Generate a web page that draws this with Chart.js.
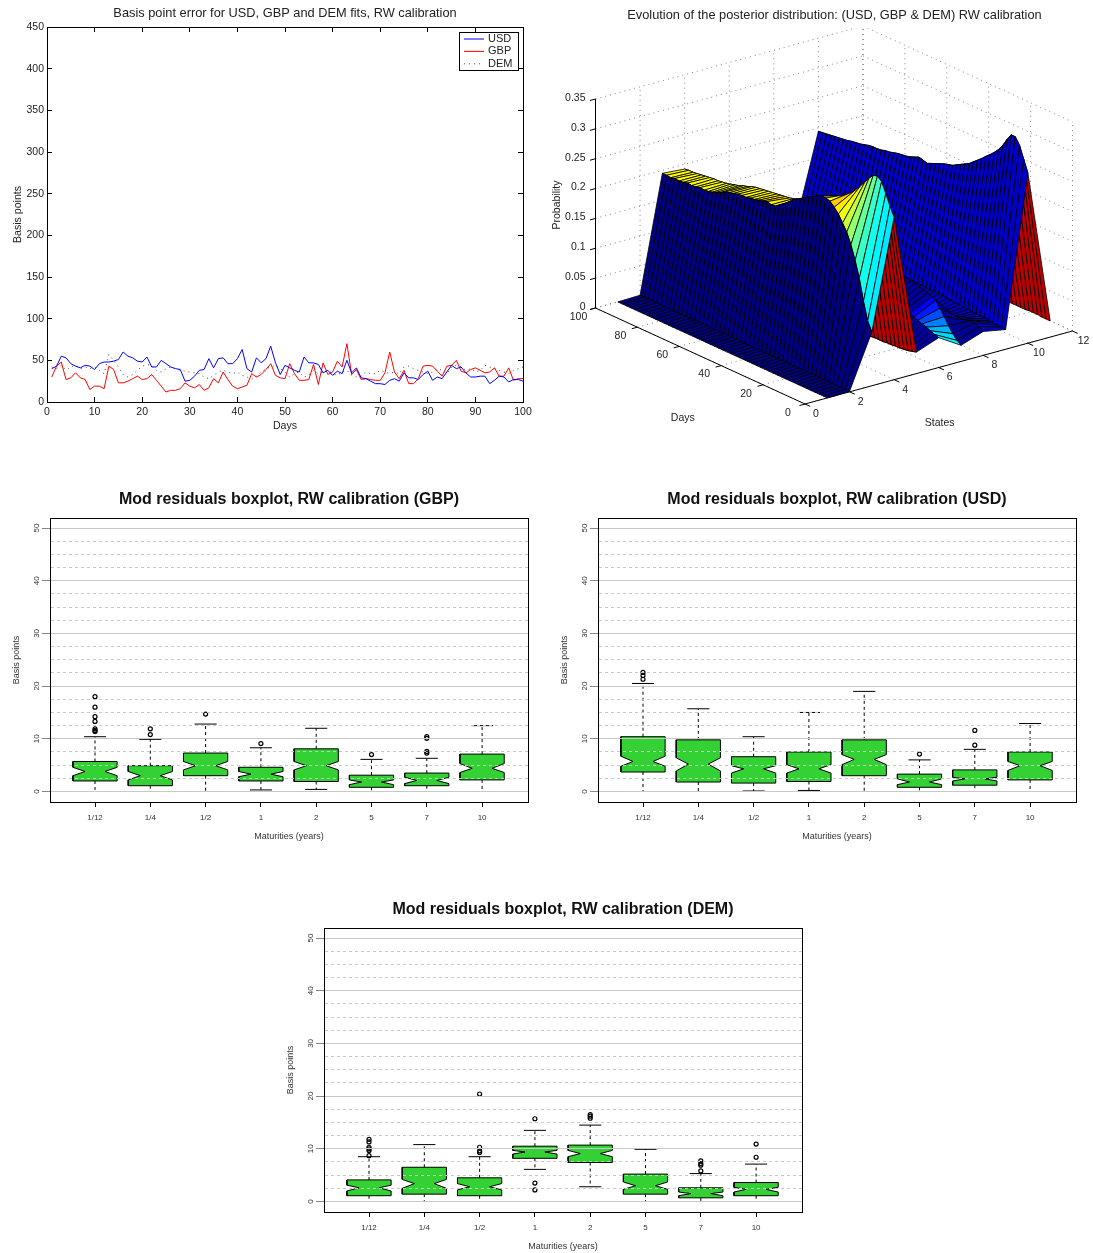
<!DOCTYPE html>
<html>
<head>
<meta charset="utf-8">
<title>RW calibration</title>
<style>
  html, body { margin: 0; padding: 0; background: #fff; }
  body { position: relative; width: 1093px; height: 1253px; overflow: hidden; }
  canvas { position: absolute; }
</style>
<script src="https://cdn.jsdelivr.net/npm/chart.js@4/dist/chart.umd.js"></script>
</head>
<body>
<canvas id="errorChart" style="left:0;top:0" width="545" height="432"></canvas>
<canvas id="surfaceChart" style="left:540px;top:0" width="589" height="440"></canvas>
<canvas id="gbpChart" style="left:0;top:485px" width="544" height="361"></canvas>
<canvas id="usdChart" style="left:548px;top:485px" width="544" height="361"></canvas>
<canvas id="demChart" style="left:274px;top:895px" width="544" height="361"></canvas>
<script>
// --- line chart values (days 1..100) ---
const usdError = [40,43,55,53,46,43,41,44,43,39,46,48,48,49,51,60,55,53,49,48,54,42,42,50,46,42,40,39,25,26,31,38,39,52,41,52,53,46,46,52,63,40,36,53,47,52,67,47,33,44,41,38,36,54,47,47,45,35,38,32,37,34,50,35,41,29,28,25,22,22,21,26,28,25,35,29,29,27,33,37,26,30,28,36,44,40,42,35,30,30,31,31,22,26,31,30,24,27,27,25];
const gbpError = [30,43,48,27,29,35,29,27,15,19,19,16,43,39,23,23,25,28,31,27,28,33,26,19,12,14,14,16,23,19,17,21,14,17,28,23,36,27,19,16,18,20,34,30,33,39,46,32,29,28,46,34,26,26,27,45,21,47,33,36,49,42,70,33,39,27,28,27,26,26,35,60,36,28,38,22,22,28,43,44,43,37,31,43,44,50,37,35,39,41,38,35,36,41,31,31,41,26,28,28];
const demError = [42,40,44,38,42,44,40,42,40,42,38,34,57,50,42,33,30,33,38,43,45,44,38,36,40,42,40,38,37,36,35,34,30,28,32,36,38,36,34,36,32,30,27,31,36,40,42,44,40,36,30,34,36,30,32,38,34,36,38,34,32,36,38,32,30,31,36,34,34,38,36,34,36,34,42,43,40,38,36,34,36,40,38,34,42,44,42,38,40,36,38,44,42,40,38,36,34,38,40,42];

// --- surface values: one array per state, one value every 2 days (0..100) ---
const surfaceDays = [0,2,4,6,8,10,12,14,16,18,20,22,24,26,28,30,32,34,36,38,40,42,44,46,48,50,52,54,56,58,60,62,64,66,68,70,72,74,76,78,80,82,84,86,88,90,92,94,96,98,100];
const state1 = [0,0,0,0,0,0,0,0,0,0,0,0,0,0,0,0,0,0,0,0,0,0,0,0,0,0,0,0,0,0,0,0,0,0,0,0,0,0,0,0,0,0,0,0,0,0,0,0,0,0,0];
const state2 = [.001,.001,.001,.001,.001,.001,.001,.001,.001,.001,.001,.001,.001,.001,.001,.001,.001,.001,.001,.001,.001,.001,.001,.001,.001,.001,.001,.001,.001,.001,.001,.001,.001,.001,.001,.001,.001,.001,.001,.001,.001,.001,.001,.001,.001,.001,.001,.001,.001,.001,.001];
const state3 = [.090,.105,.135,.170,.197,.220,.238,.250,.262,.270,.277,.279,.279,.276,.272,.268,.263,.259,.255,.250,.243,.237,.232,.227,.226,.228,.226,.224,.222,.221,.219,.219,.218,.216,.214,.212,.208,.205,.202,.200,.199,.200,.198,.197,.198,.196,.195,.196,.194,.195,.195];
const state4 = [.272,.287,.305,.322,.328,.326,.318,.308,.299,.290,.282,.275,.269,.263,.258,.252,.247,.243,.239,.236,.234,.232,.230,.228,.226,.224,.223,.222,.221,.220,.219,.218,.217,.216,.214,.211,.209,.206,.204,.202,.200,.199,.198,.198,.197,.196,.195,.194,.193,.193,.192];
const state5 = [.036,.034,.032,.031,.030,.030,.029,.029,.028,.028,.028,.027,.027,.026,.026,.025,.024,.024,.023,.022,.022,.021,.020,.020,.019,.019,.018,.018,.017,.016,.016,.015,.015,.014,.014,.013,.013,.012,.012,.011,.011,.010,.010,.010,.009,.009,.009,.008,.008,.008,.008];
const state6 = [.050,.052,.055,.058,.060,.063,.065,.068,.071,.073,.075,.077,.078,.079,.080,.081,.081,.082,.082,.082,.082,.081,.081,.080,.080,.079,.079,.078,.078,.077,.077,.076,.076,.075,.075,.074,.074,.073,.073,.072,.072,.071,.071,.071,.070,.070,.070,.069,.069,.069,.069];
const state7 = [.027,.032,.040,.050,.062,.073,.083,.086,.089,.091,.093,.095,.096,.098,.098,.099,.099,.100,.100,.100,.100,.100,.100,.099,.099,.099,.098,.098,.098,.097,.097,.097,.096,.096,.095,.095,.095,.094,.094,.094,.093,.093,.092,.092,.092,.091,.091,.091,.090,.090,.090];
const state8 = [.040,.044,.048,.048,.046,.044,.042,.040,.038,.036,.035,.034,.033,.032,.031,.030,.030,.029,.029,.028,.028,.028,.027,.027,.026,.026,.026,.025,.025,.025,.024,.024,.024,.023,.023,.023,.022,.022,.022,.022,.021,.021,.021,.021,.020,.020,.020,.020,.020,.020,.020];
const state9 = [.033,.034,.034,.035,.035,.036,.036,.037,.037,.038,.038,.039,.039,.040,.040,.041,.041,.042,.042,.042,.043,.043,.044,.044,.044,.045,.045,.045,.046,.046,.046,.047,.047,.047,.048,.048,.048,.048,.049,.049,.049,.049,.050,.050,.050,.050,.051,.051,.051,.052,.052];
const state10 = [.285,.305,.325,.336,.336,.325,.312,.302,.294,.287,.281,.274,.268,.262,.256,.252,.248,.244,.240,.238,.236,.233,.230,.227,.224,.226,.228,.225,.222,.220,.219,.218,.216,.214,.213,.211,.210,.210,.209,.207,.205,.204,.203,.201,.200,.199,.198,.197,.196,.195,.194];
const state11 = [.027,.027,.027,.028,.028,.028,.027,.027,.027,.027,.027,.026,.026,.026,.026,.025,.025,.025,.025,.024,.024,.024,.024,.024,.023,.023,.023,.023,.023,.022,.022,.022,.022,.022,.021,.021,.021,.021,.021,.021,.020,.020,.020,.020,.020,.020,.020,.020,.020,.020,.020];
const surfaceStates = [state1,state2,state3,state4,state5,state6,state7,state8,state9,state10,state11];

const probTicks = [0,.05,.1,.15,.2,.25,.3,.35];
const dayTicks = [0,20,40,60,80,100];
const stateTicks = [0,2,4,6,8,10,12];

// --- boxplot values ---
const maturities = ['1/12','1/4','1/2','1','2','5','7','10'];

const gbpQ1 = [2.0,1.1,3.0,2.0,1.9,0.8,1.1,2.2];
const gbpMed = [3.8,3.0,4.9,3.3,4.9,1.8,2.1,4.4];
const gbpQ3 = [5.7,4.9,7.3,4.6,8.1,3.1,3.5,7.1];
const gbpNotchLo = [3.0,2.2,4.1,2.8,4.1,1.3,1.5,3.6];
const gbpNotchHi = [4.6,3.8,5.7,3.8,5.7,2.2,2.7,5.3];
const gbpWhiskLo = [0,0,0,0.3,0.4,0,0,0];
const gbpWhiskHi = [10.4,9.9,12.8,8.3,12.0,6.1,6.3,12.5];
const gbpOutliers = [[18,16,14.2,13.3,11.9,11.6,11.4],[11.9,10.8],[14.7],[9.1],[],[7.0],[10.4,10.1,7.6,7.3],[]];

const usdQ1 = [3.7,1.8,1.6,1.9,3.0,0.8,1.2,2.2];
const usdMed = [5.7,5.2,4.3,4.3,6.1,1.8,2.4,4.9];
const usdQ3 = [10.4,9.8,6.6,7.5,9.8,3.3,4.1,7.5];
const usdNotchLo = [4.8,3.9,3.5,3.5,5.1,1.3,2.0,4.0];
const usdNotchHi = [6.7,6.4,4.9,5.1,7.0,2.4,2.7,5.7];
const usdWhiskLo = [0,0,0.1,0.2,0,0,0,0];
const usdWhiskHi = [20.5,15.7,10.4,15.0,19.0,6.0,8.0,12.9];
const usdOutliers = [[22.6,22.0,21.3],[],[],[],[],[7.1],[11.6,8.8],[]];

const demQ1 = [1.1,1.4,1.1,8.2,7.4,1.4,0.7,1.1];
const demMed = [2.6,3.4,2.8,9.4,9.1,3.0,1.5,2.3];
const demQ3 = [4.1,6.5,4.5,10.5,10.7,5.2,2.6,3.6];
const demNotchLo = [2.0,2.5,2.2,9.0,8.5,2.3,1.1,1.8];
const demNotchHi = [3.1,4.2,3.4,9.7,9.7,3.7,1.8,2.7];
const demWhiskLo = [0,0,0,6.1,2.8,0,0,0];
const demWhiskHi = [8.5,10.8,8.5,13.5,14.5,9.9,5.3,7.1];
const demOutliers = [[11.8,11.3,10.3,10,9.7,8.7],[],[20.4,10.3,9.6,9.3],[15.7,3.5,2.2],[16.5,16.2,15.8],[],[7.7,7.2,6.9,5.8],[10.9,8.4]];

const sansFont = '"Liberation Sans", Arial, sans-serif';
Chart.defaults.font.family = sansFont;
Chart.defaults.color = '#222';
Chart.defaults.animation = false;
Chart.defaults.events = [];

function fixedSize(size) {
    return function (scale) {
        if (scale.isHorizontal()) scale.height = size; else scale.width = size;
    };
}

// axis with only a border (and maybe inward ticks), used for the top and right of the frame
function edgeScale(position, min, max, step, tick) {
    return {
        position, min, max, afterFit: fixedSize(0),
        border: { color: '#000', width: 1, z: 2 },
        grid: { drawOnChartArea: false, drawTicks: !!tick, tickLength: tick || 0, tickColor: '#000' },
        ticks: { display: false, stepSize: step, includeBounds: false, autoSkip: false }
    };
}

// --- line chart ---
// matlab style legend box in the top right corner of the plot
const cornerLegend = {
    id: 'cornerLegend',
    afterDatasetsDraw(chart) {
        const { ctx, chartArea } = chart;
        const left = chartArea.right - 64, top = chartArea.top + 5;
        ctx.save();
        ctx.fillStyle = '#fff';
        ctx.strokeStyle = '#000';
        ctx.lineWidth = 1;
        ctx.fillRect(left, top, 59, 38);
        ctx.strokeRect(left + .5, top + .5, 59, 38);
        ctx.font = '11px ' + sansFont;
        ctx.textBaseline = 'middle';
        chart.data.datasets.forEach((set, i) => {
            const y = top + 7 + i * 12.4;
            ctx.strokeStyle = set.borderColor;
            ctx.setLineDash(set.borderDash || []);
            ctx.beginPath();
            ctx.moveTo(left + 5, y);
            ctx.lineTo(left + 25, y);
            ctx.stroke();
            ctx.fillStyle = '#222';
            ctx.fillText(set.label, left + 29, y);
        });
        ctx.restore();
    }
};

function errorSeries(values) {
    return values.map((v, i) => ({ x: i + 1, y: v }));
}

new Chart(document.getElementById('errorChart'), {
    type: 'scatter',
    plugins: [cornerLegend],
    data: {
        datasets: [
            { label: 'USD', data: errorSeries(usdError), showLine: true, borderColor: '#0000ff', backgroundColor: '#0000ff', borderWidth: 1, pointRadius: 0 },
            { label: 'GBP', data: errorSeries(gbpError), showLine: true, borderColor: '#ff0000', backgroundColor: '#ff0000', borderWidth: 1, pointRadius: 0 },
            { label: 'DEM', data: errorSeries(demError), showLine: true, borderColor: '#444', backgroundColor: '#444', borderWidth: 1, borderDash: [1, 4], pointRadius: 0 }
        ]
    },
    options: {
        responsive: false,
        layout: { padding: { left: 0, right: 22, top: 0, bottom: 0 } },
        plugins: {
            title: { display: true, text: 'Basis point error for USD, GBP and DEM fits, RW calibration', fullSize: false, font: { size: 12.8, weight: 'normal', lineHeight: 1 }, color: '#222', padding: { top: 7, bottom: 7.2 } },
            legend: { display: false },
            tooltip: { enabled: false }
        },
        scales: {
            x: {
                type: 'linear', min: 0, max: 100, afterFit: fixedSize(30),
                border: { color: '#000', width: 1 },
                grid: { drawOnChartArea: false, tickLength: -5, tickColor: '#000' },
                ticks: { stepSize: 10, padding: 9, font: { size: 10.5 }, color: '#222', maxRotation: 0 },
                title: { display: true, text: 'Days', font: { size: 10.6 }, color: '#222', padding: 0 }
            },
            y: {
                min: 0, max: 450, afterFit: fixedSize(47),
                border: { color: '#000', width: 1 },
                grid: { drawOnChartArea: false, tickLength: -5, tickColor: '#000' },
                ticks: { stepSize: 50, padding: 8, font: { size: 10.5 }, color: '#222' },
                title: { display: true, text: 'Basis points', font: { size: 10.6 }, color: '#222', padding: { top: 12, bottom: 0 } }
            },
            x2: edgeScale('top', 0, 100, 10, -5),
            y2: edgeScale('right', 0, 450, 50, -5)
        }
    }
});

// --- 3D surface, flattened with a fixed parallel projection ---
const view = { frontX: 265, frontY: 404, dayDx: -2.095, dayDy: -0.96, stateDx: 22.29, stateDy: -6.083, probPx: 209 / 0.35 };

function project(day, state, prob) {
    return {
        x: view.frontX + day * view.dayDx + state * view.stateDx,
        y: view.frontY + day * view.dayDy + state * view.stateDy - prob * view.probPx
    };
}

function jet(t) {
    const c = v => Math.round(255 * Math.max(0, Math.min(1, v)));
    return `rgb(${c(1.5 - Math.abs(4 * t - 3))},${c(1.5 - Math.abs(4 * t - 2))},${c(1.5 - Math.abs(4 * t - 1))})`;
}

// colour of each band between two states: fixed jet value, or null to follow the slope
const bandJet = [0, 0, null, null, 0.03, 0.03, 0.02, 0.06, 0.07, null];
// the small cyan fan between states 6 and 7 in the first days
const fanBand = 5;
const fanJet = [0.36, 0.34, 0.3, 0.25, 0.2, 0.15, 0.12];

function quadColor(band, dayIndex, rise) {
    if (band === fanBand && dayIndex < fanJet.length) return jet(fanJet[dayIndex]);
    if (bandJet[band] !== null) return jet(bandJet[band]);
    const t = rise > 0.004 ? 0.70 - 1.9 * rise : 0.62 - 8 * rise;
    return jet(Math.max(0.02, Math.min(0.94, t)));
}

function guideLine(from, to, color, dash, width) {
    return { data: [project(...from), project(...to)], showLine: true, borderColor: color, borderWidth: width, borderDash: dash, pointRadius: 0, fill: false };
}

const surfaceSets = [];
// front quads first: the lowest index is drawn last
for (let d = 0; d < surfaceDays.length - 1; d++) {
    for (let b = 0; b < surfaceStates.length - 1; b++) {
        const near = surfaceStates[b], far = surfaceStates[b + 1];
        const corners = [
            project(surfaceDays[d], b + 1, near[d]),
            project(surfaceDays[d], b + 2, far[d]),
            project(surfaceDays[d + 1], b + 2, far[d + 1]),
            project(surfaceDays[d + 1], b + 1, near[d + 1])
        ];
        corners.push(corners[0]);
        const color = quadColor(b, d, (far[d] + far[d + 1] - near[d] - near[d + 1]) / 2);
        surfaceSets.push({ data: corners, showLine: true, fill: 'shape', backgroundColor: color, borderColor: '#000', borderWidth: 0.8, pointRadius: 0 });
    }
}

const maxDay = 100, maxState = 12, maxProb = 0.35;
const dot = [1, 4];
const dotColor = '#666';
// solid axes and tick marks
surfaceSets.push(guideLine([maxDay, 0, 0], [maxDay, 0, maxProb], '#000', [], 1));
surfaceSets.push(guideLine([maxDay, 0, 0], [0, 0, 0], '#000', [], 1));
surfaceSets.push(guideLine([0, 0, 0], [0, maxState, 0], '#000', [], 1));
probTicks.forEach(p => surfaceSets.push(guideLine([maxDay, 0, p], [maxDay, -0.25, p], '#000', [], 1)));
dayTicks.forEach(d => surfaceSets.push(guideLine([d, 0, 0], [d, -0.25, 0], '#000', [], 1)));
stateTicks.forEach(s => surfaceSets.push(guideLine([0, s, 0], [-2.5, s, 0], '#000', [], 1)));
// dotted box walls and floor
probTicks.forEach(p => {
    surfaceSets.push(guideLine([maxDay, 0, p], [maxDay, maxState, p], dotColor, dot, 0.8));
    surfaceSets.push(guideLine([maxDay, maxState, p], [0, maxState, p], dotColor, dot, 0.8));
});
dayTicks.forEach(d => {
    surfaceSets.push(guideLine([d, maxState, 0], [d, maxState, maxProb], dotColor, dot, 0.8));
    surfaceSets.push(guideLine([d, 0, 0], [d, maxState, 0], dotColor, dot, 0.8));
});
stateTicks.forEach(s => {
    surfaceSets.push(guideLine([maxDay, s, 0], [maxDay, s, maxProb], dotColor, dot, 0.8));
    surfaceSets.push(guideLine([0, s, 0], [maxDay, s, 0], dotColor, dot, 0.8));
});

const surfaceLabels = {
    id: 'surfaceLabels',
    afterDraw(chart) {
        const { ctx, scales } = chart;
        const put = (text, p, dx, dy, align) => {
            ctx.textAlign = align || 'center';
            ctx.fillText(text, scales.x.getPixelForValue(p.x) + dx, scales.y.getPixelForValue(p.y) + dy);
        };
        ctx.save();
        ctx.font = '10.5px ' + sansFont;
        ctx.fillStyle = '#222';
        ctx.textBaseline = 'middle';
        probTicks.forEach(p => put(String(p), project(maxDay, 0, p), -10, -1, 'right'));
        dayTicks.forEach(d => put(String(d), project(d, 0, 0), -17, 9));
        stateTicks.forEach(s => put(String(s), project(0, s, 0), 11, 10));
        put('Days', project(55, 0, 0), -7, 67);
        put('States', project(0, 6, 0), 1, 56);
        ctx.translate(17, 205);
        ctx.rotate(-Math.PI / 2);
        ctx.textAlign = 'center';
        ctx.fillText('Probability', 0, 0);
        ctx.restore();
    }
};

new Chart(document.getElementById('surfaceChart'), {
    type: 'scatter',
    plugins: [surfaceLabels],
    data: { datasets: surfaceSets },
    options: {
        responsive: false,
        parsing: false,
        layout: { padding: 0 },
        plugins: {
            title: { display: true, text: 'Evolution of the posterior distribution: (USD, GBP & DEM) RW calibration', font: { size: 12.8, weight: 'normal', lineHeight: 1 }, color: '#222', padding: { top: 9, bottom: 6.2 } },
            legend: { display: false },
            tooltip: { enabled: false }
        },
        scales: {
            x: { type: 'linear', display: false, min: 0, max: 589 },
            y: { type: 'linear', display: false, min: 28, max: 440, reverse: true }
        }
    }
});

// --- notched boxplots ---
const boxHalf = 0.4, notchHalf = 0.18, capHalf = 0.2;

function boxDatasets(q1, med, q3, notchLo, notchHi, whiskLo, whiskHi, outliers) {
    const sets = [];
    const outlierPoints = [];
    maturities.forEach((_, i) => {
        const x = i + 1;
        sets.push({
            data: [
                { x: x - boxHalf, y: q1[i] }, { x: x + boxHalf, y: q1[i] }, { x: x + boxHalf, y: notchLo[i] },
                { x: x + notchHalf, y: med[i] }, { x: x + boxHalf, y: notchHi[i] }, { x: x + boxHalf, y: q3[i] },
                { x: x - boxHalf, y: q3[i] }, { x: x - boxHalf, y: notchHi[i] }, { x: x - notchHalf, y: med[i] },
                { x: x - boxHalf, y: notchLo[i] }, { x: x - boxHalf, y: q1[i] }
            ],
            showLine: true, fill: 'shape', backgroundColor: '#33d133', borderColor: '#000', borderWidth: 1, pointRadius: 0
        });
        const stroke = (pts, dash) => sets.push({ data: pts, showLine: true, borderColor: '#000', borderWidth: 1, borderDash: dash || [], pointRadius: 0 });
        stroke([{ x: x - notchHalf, y: med[i] }, { x: x + notchHalf, y: med[i] }]);
        stroke([{ x, y: q3[i] }, { x, y: whiskHi[i] }], [3, 3]);
        stroke([{ x, y: q1[i] }, { x, y: whiskLo[i] }], [3, 3]);
        stroke([{ x: x - capHalf, y: whiskHi[i] }, { x: x + capHalf, y: whiskHi[i] }]);
        stroke([{ x: x - capHalf, y: whiskLo[i] }, { x: x + capHalf, y: whiskLo[i] }]);
        outliers[i].forEach(v => outlierPoints.push({ x, y: v }));
    });
    sets.push({ data: outlierPoints, pointStyle: 'circle', pointRadius: 2, borderWidth: 1.2, borderColor: '#000', backgroundColor: 'rgba(255,255,255,0)' });
    return sets;
}

const gridGrey = '#c8c8c8';

function boxChart(canvasId, titleText, sets) {
    new Chart(document.getElementById(canvasId), {
        type: 'scatter',
        data: { datasets: sets },
        options: {
            responsive: false,
            layout: { padding: { left: 0, right: 16, top: 0, bottom: 0 } },
            plugins: {
                title: { display: true, text: titleText, fullSize: false, font: { size: 16, weight: 'bold', lineHeight: 1 }, color: '#111', padding: { top: 7, bottom: 10 } },
                legend: { display: false },
                tooltip: { enabled: false }
            },
            scales: {
                x: {
                    type: 'linear', min: 0.186, max: 8.83, afterFit: fixedSize(44),
                    border: { color: '#000', width: 1, z: 2 },
                    grid: { drawOnChartArea: false, tickLength: 5, tickColor: '#000' },
                    ticks: { stepSize: 1, includeBounds: false, autoSkip: false, maxRotation: 0, padding: 6, font: { size: 8 }, color: '#333', callback: v => maturities[v - 1] },
                    title: { display: true, text: 'Maturities (years)', font: { size: 9 }, color: '#333', padding: { top: 0, bottom: 4 } }
                },
                y: {
                    min: -1.99, max: 51.9, afterFit: fixedSize(50),
                    border: {
                        color: '#000', width: 1, z: 2,
                        dash: c => (c.tick && c.tick.value % 10 !== 0) ? [3, 3] : []
                    },
                    grid: {
                        z: 1,
                        color: gridGrey,
                        tickLength: 8,
                        tickColor: c => (c.tick && c.tick.value % 10 === 0) ? '#888' : 'rgba(0,0,0,0)'
                    },
                    ticks: { stepSize: 2.5, includeBounds: false, autoSkip: false, minRotation: 90, maxRotation: 90, crossAlign: 'center', padding: 1, font: { size: 8 }, color: '#333', callback: v => (v % 10 === 0 ? String(v) : '') },
                    title: { display: true, text: 'Basis points', font: { size: 9 }, color: '#333', padding: { top: 11, bottom: 0 } }
                },
                x2: edgeScale('top', 0, 1, 1),
                y2: edgeScale('right', 0, 1, 1)
            }
        }
    });
}

boxChart('gbpChart', 'Mod residuals boxplot, RW calibration (GBP)', boxDatasets(gbpQ1, gbpMed, gbpQ3, gbpNotchLo, gbpNotchHi, gbpWhiskLo, gbpWhiskHi, gbpOutliers));
boxChart('usdChart', 'Mod residuals boxplot, RW calibration (USD)', boxDatasets(usdQ1, usdMed, usdQ3, usdNotchLo, usdNotchHi, usdWhiskLo, usdWhiskHi, usdOutliers));
boxChart('demChart', 'Mod residuals boxplot, RW calibration (DEM)', boxDatasets(demQ1, demMed, demQ3, demNotchLo, demNotchHi, demWhiskLo, demWhiskHi, demOutliers));
</script>
</body>
</html>
